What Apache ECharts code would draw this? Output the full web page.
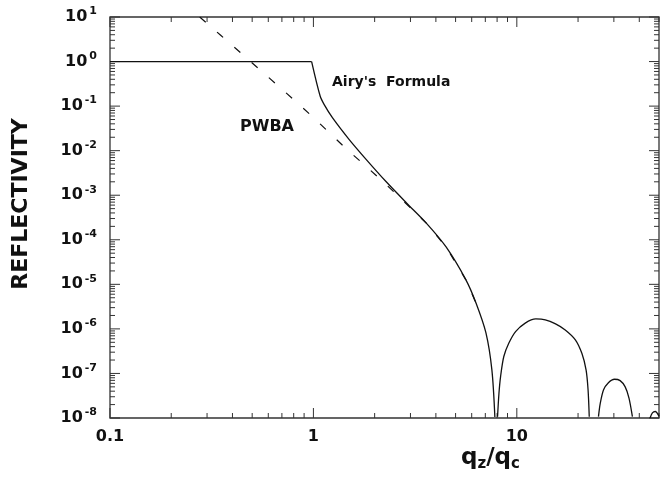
<!DOCTYPE html>
<html>
<head>
<meta charset="utf-8">
<script src="https://cdn.jsdelivr.net/npm/echarts@6/dist/echarts.min.js"></script>
<style>
  html, body { margin: 0; padding: 0; background: #fff; }
  #chart { width: 669px; height: 482px; }
</style>
</head>
<body>
<div id="chart"></div>
<script>
// Reflectivity of a thin film vs. normalised momentum transfer q_z/q_c.

// Exact (Airy) reflectivity, sampled along the curve.
// Values below the axis floor mark the fringe minima.
const airyQ = [0.1, 0.98, 1.08, 1.13, 1.24, 1.50, 1.82, 2.28, 2.86, 3.58, 4.49, 5.62, 6.30, 7.05, 7.54, 7.80,
  7.92,
  8.04, 8.17, 8.32, 8.63, 9.14, 9.86, 11.0, 12.4, 13.8, 15.5, 17.3, 19.4, 20.9, 21.9, 22.4, 22.7,
  23.5,
  25.2, 25.7, 26.7, 28.2, 30.2, 32.2, 34.1, 35.6, 37.0,
  38.5,
  45.2, 46.4, 47.9, 50];
const airyR = [1, 1, 0.166, 0.108, 0.055, 0.0177, 0.0063, 0.0020, 6.8e-4, 2.4e-4, 6.9e-5, 1.26e-5, 3.8e-6, 8.1e-7, 1.2e-7, 1.05e-8,
  1e-10,
  1.07e-8, 3.6e-8, 8.5e-8, 2.4e-7, 4.8e-7, 8.7e-7, 1.35e-6, 1.67e-6, 1.6e-6, 1.3e-6, 9.5e-7, 5.7e-7, 2.8e-7, 1.2e-7, 4.3e-8, 1.07e-8,
  1e-10,
  1.07e-8, 2.1e-8, 4.3e-8, 6.2e-8, 7.4e-8, 6.9e-8, 5.0e-8, 2.8e-8, 1.07e-8,
  1e-10,
  1.0e-8, 1.3e-8, 1.4e-8, 1.1e-8];
// index where the total-reflection plateau ends
const airyEdge = 1;

// Plane-wave Born approximation
const pwbaQ = [0.276, 0.35, 0.537, 0.807, 0.99, 1.45, 1.82, 2.26, 2.73, 3.58, 4.49, 5.62, 6.30];
const pwbaR = [10, 3.9, 0.70, 0.135, 0.058, 0.011, 0.0044, 0.0018, 7.9e-4, 2.4e-4, 6.9e-5, 1.26e-5, 3.8e-6];

// Axis ranges and labels
const xMin = 0.1, xMax = 50;
const yMin = 1e-8, yMax = 10;
const xTickExps = [-1, 0, 1];
const xTickLabels = ['0.1', '1', '10'];
const yTickExps = [1, 0, -1, -2, -3, -4, -5, -6, -7, -8];
const yTickLabels = ['1', '0', '-1', '-2', '-3', '-4', '-5', '-6', '-7', '-8'];

// Tick positions: 1..9 times each power of ten inside the ranges
function decadeTicks(lo, hi) {
  const out = [];
  for (let e = Math.floor(Math.log10(lo)); e <= Math.ceil(Math.log10(hi)); e++) {
    for (let k = 1; k <= 9; k++) {
      const v = k * Math.pow(10, e);
      if (v >= lo * 0.999 && v <= hi * 1.001) out.push(+v.toPrecision(3));
    }
  }
  return out;
}
const xTicks = decadeTicks(xMin, xMax);
const yTicks = decadeTicks(yMin, yMax);

function isPow10(v) {
  const l = Math.log10(v);
  return Math.abs(l - Math.round(l)) < 1e-6;
}

const FONT = '"DejaVu Sans", "Liberation Sans", Arial, sans-serif';
const INK = '#111';
const FRAME = '#333';

const airyPts = airyQ.map((q, i) => [q, airyR[i]]);

// Split the Airy curve into arches between the fringe minima
const airyArches = [];
let cur = [];
airyPts.slice(airyEdge).forEach(p => {
  if (p[1] < yMin) { if (cur.length) airyArches.push(cur); cur = []; }
  else cur.push(p);
});
if (cur.length) airyArches.push(cur);

const chart = echarts.init(document.getElementById('chart'), null, { renderer: 'canvas' });

const series = [
  {
    name: 'PWBA', type: 'line', clip: true, showSymbol: false, silent: true,
    data: pwbaQ.map((q, i) => [q, pwbaR[i]]),
    lineStyle: { color: INK, width: 1.2, type: [8, 15] }
  },
  {
    // total-reflection plateau
    name: "Airy's Formula", type: 'line', clip: true, showSymbol: false, silent: true,
    data: airyPts.slice(0, airyEdge + 1),
    lineStyle: { color: INK, width: 1.3 }
  }
];
airyArches.forEach(arch => {
  series.push({
    name: "Airy's Formula", type: 'line', clip: true, showSymbol: false, silent: true,
    smooth: 0.3,
    data: arch,
    lineStyle: { color: INK, width: 1.3 }
  });
});
series.push(
  {
    // inward ticks on bottom and top edges
    type: 'custom', silent: true, clip: false,
    data: xTicks.map(v => [v, 1]),
    renderItem: function (params, api) {
      const v = api.value(0);
      const cs = params.coordSys;
      const x = api.coord([v, 1])[0];
      const len = isPow10(v) ? 10 : 5;
      const st = { stroke: FRAME, lineWidth: 1 };
      return {
        type: 'group', children: [
          { type: 'line', shape: { x1: x, y1: cs.y + cs.height, x2: x, y2: cs.y + cs.height - len }, style: st },
          { type: 'line', shape: { x1: x, y1: cs.y, x2: x, y2: cs.y + len }, style: st }
        ]
      };
    }
  },
  {
    // inward ticks on left and right edges
    type: 'custom', silent: true, clip: false,
    data: yTicks.map(v => [1, v]),
    renderItem: function (params, api) {
      const v = api.value(1);
      const cs = params.coordSys;
      const y = api.coord([1, v])[1];
      const len = isPow10(v) ? 10 : 5;
      const st = { stroke: FRAME, lineWidth: 1 };
      return {
        type: 'group', children: [
          { type: 'line', shape: { x1: cs.x, y1: y, x2: cs.x + len, y2: y }, style: st },
          { type: 'line', shape: { x1: cs.x + cs.width, y1: y, x2: cs.x + cs.width - len, y2: y }, style: st }
        ]
      };
    }
  }
);

const option = {
  animation: false,
  backgroundColor: '#fff',
  grid: {
    left: 110, right: 10, top: 17, bottom: 64,
    show: true, borderColor: FRAME, borderWidth: 1.3, backgroundColor: 'transparent'
  },
  xAxis: {
    type: 'log', logBase: 10, min: xMin, max: xMax,
    axisLine: { show: false },
    axisTick: { show: false },
    splitLine: { show: false },
    axisLabel: {
      margin: 11,
      color: INK, fontFamily: FONT, fontWeight: 'bold', fontSize: 16,
      formatter: function (v) {
        if (!isPow10(v)) return '';
        const i = xTickExps.indexOf(Math.round(Math.log10(v)));
        return i < 0 ? '' : xTickLabels[i];
      }
    }
  },
  yAxis: {
    type: 'log', logBase: 10, min: yMin, max: yMax,
    axisLine: { show: false },
    axisTick: { show: false },
    splitLine: { show: false },
    axisLabel: {
      margin: 13,
      formatter: function (v) {
        const i = yTickExps.indexOf(Math.round(Math.log10(v)));
        return i < 0 ? '' : '{b|10}{e|' + yTickLabels[i] + '}';
      },
      rich: {
        b: { color: INK, fontFamily: FONT, fontWeight: 'bold', fontSize: 16, lineHeight: 22 },
        e: { color: INK, fontFamily: FONT, fontWeight: 'bold', fontSize: 11, lineHeight: 12,
             verticalAlign: 'top', padding: [0, 0, 0, 2] }
      }
    }
  },
  graphic: [
    {
      type: 'text', x: 21, y: 204, rotation: Math.PI / 2,
      style: {
        text: 'REFLECTIVITY', fill: INK, font: 'bold 22px ' + FONT,
        align: 'center', verticalAlign: 'middle'
      }
    },
    {
      type: 'text', x: 461, y: 444,
      style: {
        text: '{m|q}{s|z}{m|/q}{s|c}',
        rich: {
          m: { fill: INK, fontFamily: FONT, fontWeight: 'bold', fontSize: 23, lineHeight: 28 },
          s: { fill: INK, fontFamily: FONT, fontWeight: 'bold', fontSize: 15, lineHeight: 14, verticalAlign: 'bottom' }
        }
      }
    },
    {
      type: 'text', x: 332, y: 82,
      style: { text: "Airy's  Formula", fill: INK, font: 'bold 14px ' + FONT, verticalAlign: 'middle' }
    },
    {
      type: 'text', x: 240, y: 127,
      style: { text: 'PWBA', fill: INK, font: 'bold 16px ' + FONT, verticalAlign: 'middle' }
    }
  ],
  series: series
};

chart.setOption(option);
</script>
</body>
</html>
